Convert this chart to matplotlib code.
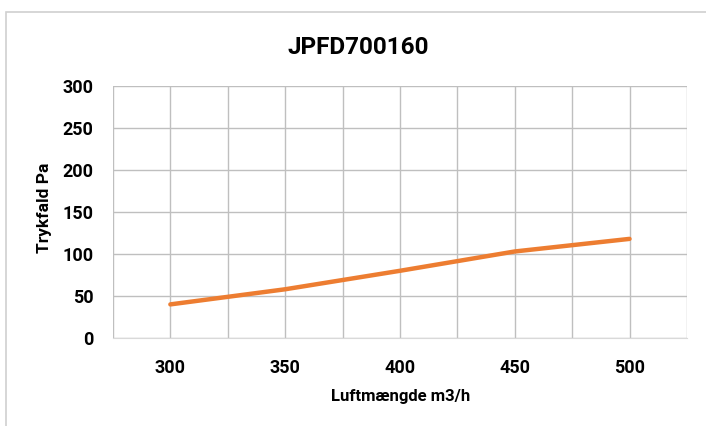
import matplotlib
matplotlib.use("Agg")
import matplotlib.pyplot as plt
from matplotlib.patches import Rectangle
from matplotlib.ticker import MultipleLocator

# data
airflow = [300, 350, 400, 450, 500]
pressure_drop = [40, 58, 80, 103, 118]

title = "JPFD700160"
x_label = "Luftmængde m3/h"
y_label = "Trykfald Pa"
x_tick_values = [300, 350, 400, 450, 500]
y_tick_values = [0, 50, 100, 150, 200, 250, 300]

plt.rcParams["font.family"] = ["Roboto", "DejaVu Sans"]

fig = plt.figure(figsize=(7.06, 4.26), dpi=100)
ax = fig.add_axes([0.160, 0.2066, 0.813, 0.5915])

# thin grey frame of the chart area
fig.patches.append(Rectangle((6 / 706, -0.1), 1.2, 1 - 12 / 426 + 0.1,
                             transform=fig.transFigure, fill=False,
                             edgecolor="#D0D0D0", linewidth=1.2))

ax.plot(airflow, pressure_drop, color="#ED7D31", linewidth=3.2,
        solid_capstyle="round", zorder=3)

ax.set_xlim(275, 525)
ax.set_ylim(0, 300)
ax.set_xticks(x_tick_values)
ax.set_yticks(y_tick_values)
ax.xaxis.set_minor_locator(MultipleLocator(25))
ax.grid(True, which="both", color="#BFBFBF", linewidth=1.0)
ax.set_axisbelow(True)
ax.tick_params(which="both", length=0)
ax.tick_params(axis="x", pad=15, labelsize=13)
ax.tick_params(axis="y", pad=14, labelsize=13)
for lbl in ax.get_xticklabels() + ax.get_yticklabels():
    lbl.set_fontweight("bold")

for side in ["top", "right", "left"]:
    ax.spines[side].set_visible(False)
ax.spines["bottom"].set_color("#D9D9D9")

fig.text(0.507, 1 - 47 / 426, title, ha="center", va="center",
         fontsize=17.5, fontweight="bold")
fig.text(0.567, 1 - 397 / 426, x_label, ha="center", va="center",
         fontsize=12, fontweight="bold")
fig.text(45 / 706, 1 - 208 / 426, y_label, ha="center", va="center",
         rotation=90, fontsize=12.5, fontweight="bold")

fig.savefig("out.png", dpi=100)
